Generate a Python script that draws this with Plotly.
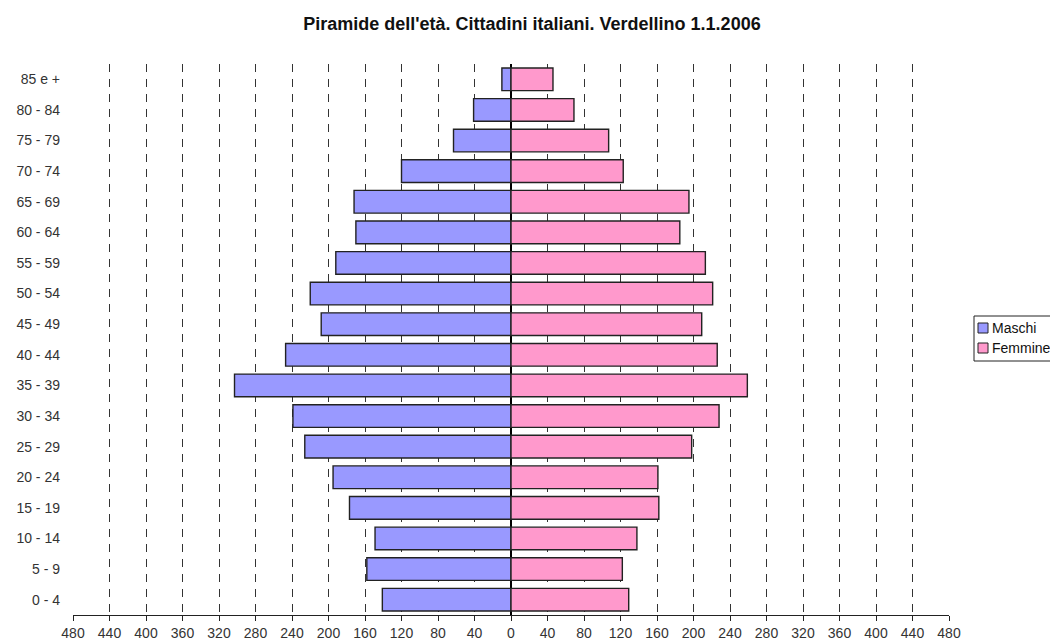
import plotly.graph_objects as go

ages = ["0 - 4", "5 - 9", "10 - 14", "15 - 19", "20 - 24", "25 - 29", "30 - 34", "35 - 39",
        "40 - 44", "45 - 49", "50 - 54", "55 - 59", "60 - 64", "65 - 69", "70 - 74",
        "75 - 79", "80 - 84", "85 e +"]
maschi = [141, 158, 149, 177, 195, 226, 239, 303, 247, 208, 220, 192, 170, 172, 120, 63, 41, 10]
femmine = [129, 122, 138, 162, 161, 198, 228, 259, 226, 209, 221, 213, 185, 195, 123, 107, 69, 46]
tick_vals = list(range(-480, 481, 40))
tick_text = [str(abs(v)) for v in tick_vals]
series_names = ["Maschi", "Femmine"]
series_colors = ["#9999FF", "#FF99CC"]

# page body has an 8px margin, so the figure is slightly smaller than the window
W, H = 1050, 633
ML, MR, MT, MB = 65, 109, 56, 26
PW, PH = W - ML - MR, H - MT - MB

def rx(X):  # reference window pixel -> paper x
    return (X - 8 - ML) / PW

def ry(Y):  # reference window pixel -> paper y
    return (H - MB - (Y - 8)) / PH

fig = go.Figure()
fig.add_trace(go.Bar(
    y=ages, x=[-v for v in maschi], orientation="h", name=series_names[0],
    marker=dict(color=series_colors[0], line=dict(color="#222222", width=1.4)),
    showlegend=False,
))
fig.add_trace(go.Bar(
    y=ages, x=femmine, orientation="h", name=series_names[1],
    marker=dict(color=series_colors[1], line=dict(color="#222222", width=1.4)),
    showlegend=False,
))

# compact legend, as in the reference
legend_shapes = [
    dict(type="rect", xref="paper", yref="paper",
         x0=rx(974), x1=rx(1070), y0=ry(361), y1=ry(316),
         line=dict(color="#222222", width=1), fillcolor="white"),
]
annotations = []
for i, (nm, col) in enumerate(zip(series_names, series_colors)):
    yc = 328 + i * 20
    legend_shapes.append(dict(
        type="rect", xref="paper", yref="paper",
        x0=rx(978), x1=rx(988), y0=ry(yc + 5), y1=ry(yc - 5),
        line=dict(color="#222222", width=1), fillcolor=col))
    annotations.append(dict(
        xref="paper", yref="paper", x=rx(990), y=ry(yc),
        xanchor="left", yanchor="middle", text=nm, showarrow=False,
        font=dict(size=14, color="#111111")))

fig.update_layout(
    width=W, height=H,
    barmode="relative", bargap=0.26,
    plot_bgcolor="white", paper_bgcolor="white",
    margin=dict(l=ML, r=MR, t=MT, b=MB, autoexpand=False),
    font=dict(family="Liberation Sans, Arial, sans-serif", size=14, color="#222222"),
    title=dict(text="<b>Piramide dell'età. Cittadini italiani. Verdellino 1.1.2006</b>",
               x=0.499, xanchor="center", y=0.975, yanchor="middle",
               font=dict(size=18, color="#111111")),
    showlegend=False,
    shapes=legend_shapes,
    annotations=annotations,
)
fig.update_xaxes(
    range=[-480, 480], tickvals=tick_vals, ticktext=tick_text,
    showgrid=True, gridcolor="#333333", gridwidth=1, griddash="8px,7px",
    zeroline=True, zerolinecolor="#000000", zerolinewidth=1.5,
    showline=True, linecolor="#222222", linewidth=1.2,
    ticks="outside", ticklen=5, tickcolor="#222222",
    tickfont=dict(size=14, color="#333333"), automargin=False,
)
fig.update_yaxes(
    categoryorder="array", categoryarray=ages,
    showgrid=False, showline=False, zeroline=False,
    ticklabelstandoff=12, automargin=False,
    tickfont=dict(size=14, color="#333333"),
)

fig.write_html("out.html")
